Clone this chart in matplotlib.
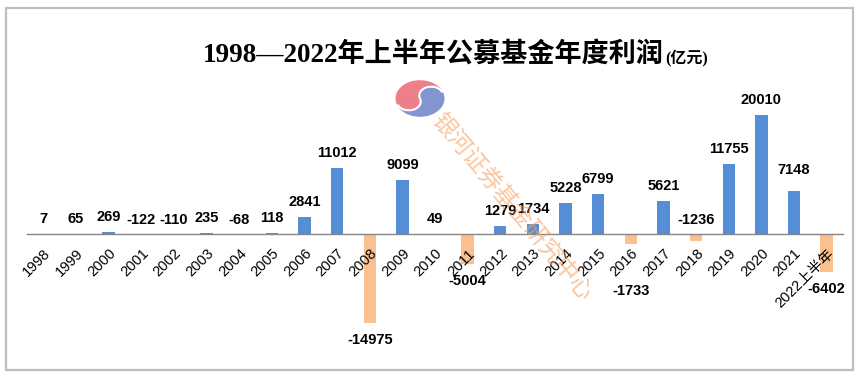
import matplotlib.pyplot as plt
import matplotlib.patches as mpatches
import matplotlib.transforms as mtransforms

# data (unit: 亿元)
years = ["1998", "1999", "2000", "2001", "2002", "2003", "2004", "2005", "2006",
         "2007", "2008", "2009", "2010", "2011", "2012", "2013", "2014", "2015",
         "2016", "2017", "2018", "2019", "2020", "2021", "2022上半年"]
profit = [7, 65, 269, -122, -110, 235, -68, 118, 2841, 11012, -14975, 9099, 49,
          -5004, 1279, 1734, 5228, 6799, -1733, 5621, -1236, 11755, 20010, 7148, -6402]

title_main = "1998—2022年上半年公募基金年度利润"
title_unit = "(亿元)"
watermark = "银河证券基金研究中心"

blue = "#558ED5"
orange = "#FAC090"
W, H = 867, 382

fig = plt.figure(figsize=(W / 100, H / 100), dpi=100)

# outer grey frame
fig.patches.append(mpatches.Rectangle((6 / W, 1 - 370 / H), 847 / W, 362 / H,
                                      transform=fig.transFigure, fill=False,
                                      edgecolor="#BFBFBF", linewidth=1.6))

ax = fig.add_axes([27 / W, 1 - 352.9 / H, 816 / W, 255.7 / H])
x = list(range(len(years)))
colors = [blue if v >= 0 else orange for v in profit]
ax.bar(x, profit, width=0.38, color=colors, zorder=1)
ax.set_axisbelow(False)

ax.set_xlim(-0.5, len(years) - 0.5)
ax.set_ylim(-20000, 23000)
for s in ["top", "right", "left"]:
    ax.spines[s].set_visible(False)
ax.spines["bottom"].set_position(("data", 0))
ax.spines["bottom"].set_color("#868686")
ax.spines["bottom"].set_linewidth(1.0)
ax.set_yticks([])
ax.set_xticks(x)
ax.set_xticklabels(years, rotation=45, ha="right", va="top", rotation_mode="anchor",
                   fontsize=10.5, family=["Liberation Sans", "Noto Sans CJK SC"])
ax.tick_params(axis="x", length=0, pad=9)
ax.patch.set_alpha(0)

# data labels (pixel offsets follow the reference layout)
nudge = {"2016": -30, "2021": 6}
for i, v in enumerate(profit):
    if v >= 0:
        base, off = v, 15
    elif v > -1500:
        base, off = 0, 14
    else:
        base, off = v, -17
    off += nudge.get(years[i], 0)
    ax.annotate(str(v), (i, base), xytext=(0, off), textcoords="offset pixels",
                ha="center", va="center", fontsize=10.5, fontweight="bold",
                family="Liberation Sans", color="black", zorder=3)

# title
fig.text(664 / W, 1 - 62 / H, title_main, ha="right", va="baseline", fontsize=19.5,
         fontweight="bold", family=["Liberation Serif", "Noto Sans CJK SC"])
fig.text(665 / W, 1 - 62 / H, title_unit, ha="left", va="baseline", fontsize=11.5,
         fontweight="bold", family=["Liberation Serif", "Noto Sans CJK SC"])

# watermark logo + text
lax = fig.add_axes([395 / W, 1 - 117 / H, 50 / W, 37 / H])
lax.set_xlim(-1.05, 1.05)
lax.set_ylim(-1.05, 1.05)
lax.axis("off")
rot = mtransforms.Affine2D().rotate_deg(20) + lax.transData
for p in [mpatches.Wedge((0, 0), 1, 0, 180, color="#EE7F88"),
          mpatches.Wedge((0, 0), 1, 180, 360, color="#8395D0"),
          mpatches.Wedge((-0.5, 0), 0.5, 180, 360, color="#EE7F88"),
          mpatches.Wedge((0.5, 0), 0.5, 0, 180, color="#8395D0"),
          mpatches.Arc((-0.5, 0), 1, 1, theta1=180, theta2=360, color="white", lw=1.5),
          mpatches.Arc((0.5, 0), 1, 1, theta1=0, theta2=180, color="white", lw=1.5)]:
    p.set_transform(rot)
    lax.add_patch(p)

fig.text(512 / W, 1 - 207 / H, watermark, ha="center", va="center", rotation=-50,
         rotation_mode="anchor", fontsize=17, color="#F8A060", alpha=0.6,
         family="Noto Sans CJK SC")

fig.savefig("out.png", dpi=100)
